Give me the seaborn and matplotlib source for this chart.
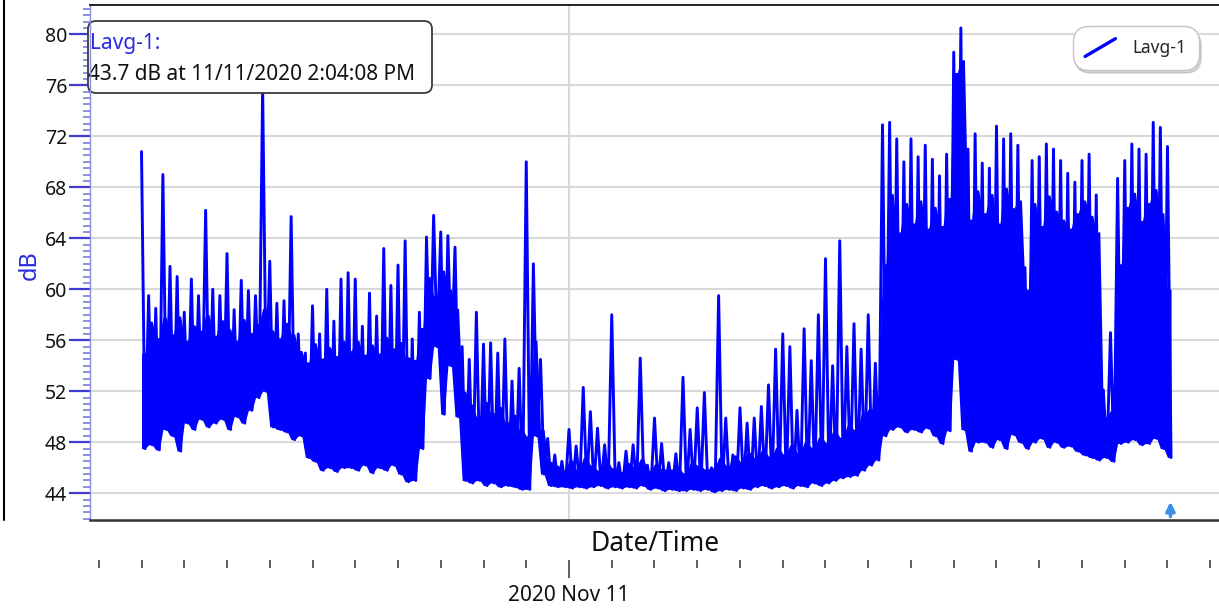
import numpy as np
import pandas as pd
import seaborn as sns
import matplotlib.pyplot as plt
import matplotlib.dates as mdates
from matplotlib.ticker import MultipleLocator, NullFormatter
from matplotlib.patches import FancyBboxPatch
from matplotlib.lines import Line2D
from matplotlib.legend_handler import HandlerBase

# --- Data (10 minute blocks) ---
series_name = 'Lavg-1'
start_time = '2020-11-10 14:00'
step_minutes = 10

# highest reading inside each block
peak_db = [
    70.8, 59.5, 58.5, 69.0, 61.8, 61.0, 58.2, 60.8, 59.5, 66.2,
    60.0, 59.5, 62.8, 58.4, 60.7, 59.9, 59.5, 75.8, 62.2, 58.9,
    59.1, 65.7, 56.5, 55.0, 58.7, 56.5, 60.0, 57.5, 60.8, 61.3,
    60.8, 57.1, 59.7, 57.9, 63.2, 60.3, 61.9, 63.8, 56.1, 58.2,
    64.1, 65.8, 64.5, 64.2, 63.3, 55.5, 54.5, 58.2, 55.7, 55.8,
    55.0, 56.1, 52.8, 53.8, 70.0, 62.0, 54.5, 48.3, 47.0, 46.5,
    49.0, 47.7, 52.3, 50.4, 49.1, 47.8, 58.0, 46.4, 47.3, 47.8,
    54.6, 46.2, 49.9, 47.9, 46.4, 47.1, 53.1, 49.0, 50.7, 51.9,
    46.0, 59.5, 49.9, 47.0, 50.7, 49.5, 49.9, 50.8, 52.5, 55.3,
    56.5, 55.5, 50.5, 56.9, 54.4, 58.0, 62.4, 54.0, 63.8, 55.5,
    57.3, 55.3, 58.0, 54.2, 72.9, 73.1, 71.8, 70.0, 71.8, 70.4,
    71.3, 70.2, 68.9, 70.6, 78.6, 80.5, 71.0, 72.2, 69.9, 69.5,
    72.8, 71.8, 72.2, 71.3, 61.7, 70.1, 70.4, 71.4, 71.0, 70.1,
    69.1, 68.4, 70.1, 70.6, 67.4, 52.1, 56.6, 68.7, 70.1, 71.4,
    71.0, 70.6, 73.1, 72.7, 71.2,
]

# level up to which the trace is a solid mass inside each block
core_db = [
    55.0, 57.5, 56.2, 57.8, 56.5, 57.9, 56.0, 57.2, 56.8, 58.0,
    56.4, 57.6, 56.9, 56.0, 57.7, 56.6, 57.3, 58.5, 56.8, 56.2,
    57.4, 56.5, 55.2, 54.3, 55.8, 54.6, 55.5, 54.8, 56.0, 55.2,
    56.0, 54.9, 55.7, 55.0, 56.3, 55.4, 55.9, 54.7, 54.5, 57.0,
    61.0, 59.5, 61.5, 60.0, 58.5, 52.0, 51.0, 50.0, 51.2, 50.3,
    50.8, 49.6, 50.2, 49.0, 48.5, 56.0, 49.0, 46.5, 46.2, 45.8,
    46.6, 45.9, 46.8, 46.2, 45.8, 46.5, 46.0, 45.7, 46.4, 46.1,
    46.7, 45.8, 46.3, 45.9, 45.9, 46.0, 45.6, 46.4, 46.2, 45.9,
    46.0, 46.8, 46.2, 47.0, 46.5, 47.2, 46.8, 47.4, 46.9, 47.6,
    47.1, 47.8, 47.2, 48.0, 47.6, 48.4, 48.0, 48.9, 48.4, 49.3,
    49.0, 50.2, 50.6, 51.2, 62.0, 67.5, 64.5, 66.8, 65.2, 67.0,
    64.8, 66.5, 65.0, 67.2, 77.0, 78.0, 65.5, 67.8, 66.0, 67.5,
    65.2, 68.0, 66.4, 67.0, 60.0, 66.8, 65.0, 67.4, 66.2, 65.5,
    64.8, 66.0, 67.0, 65.8, 64.5, 50.0, 50.5, 62.0, 66.5, 67.6,
    65.4, 66.8, 67.9, 66.0, 60.0,
]

# lowest reading inside each block
floor_db = [
    47.5, 47.8, 47.4, 49.0, 48.5, 47.3, 49.5, 49.0, 49.8, 49.2,
    49.5, 49.8, 49.0, 50.0, 49.5, 50.5, 51.5, 52.0, 49.2, 49.0,
    48.8, 48.2, 48.5, 46.8, 46.5, 45.8, 46.0, 45.7, 46.0, 46.0,
    45.8, 46.2, 45.6, 46.0, 45.8, 46.2, 45.5, 44.9, 45.0, 47.5,
    53.0, 55.5, 50.2, 54.0, 50.0, 45.0, 44.8, 45.0, 44.6, 44.8,
    44.5, 44.6, 44.5, 44.3, 44.3, 48.5, 45.5, 44.6, 44.5, 44.5,
    44.4, 44.5, 44.4, 44.5, 44.6, 44.4, 44.5, 44.4, 44.5, 44.4,
    44.6, 44.3, 44.4, 44.2, 44.3, 44.2, 44.2, 44.3, 44.2, 44.3,
    44.1, 44.2, 44.3, 44.2, 44.4, 44.3, 44.5, 44.6, 44.4, 44.5,
    44.6, 44.4, 44.6, 44.5, 44.8, 44.6, 44.8, 45.0, 45.2, 45.3,
    45.4, 45.8, 46.2, 46.6, 48.5, 49.0, 49.2, 48.8, 49.0, 48.8,
    49.1, 48.5, 47.9, 48.9, 54.5, 49.0, 47.3, 48.0, 48.0, 47.6,
    48.2, 47.5, 48.6, 48.0, 47.5, 48.0, 48.3, 47.6, 48.0, 47.6,
    47.7, 47.3, 47.0, 46.8, 46.6, 46.8, 46.5, 47.9, 48.0, 48.2,
    47.8, 47.9, 48.3, 47.5, 46.8,
]

cursor_time = '2020-11-11 14:04:08'
cursor_db = 43.7
y_ticks = [44, 48, 52, 56, 60, 64, 68, 72, 76, 80]

# --- Build the trace: peak then floor for every block ---
block_start = pd.Timestamp(start_time) + pd.to_timedelta(np.arange(len(peak_db)) * step_minutes, unit='min')
block_mid = block_start + pd.Timedelta(minutes=step_minutes / 2)
times = np.ravel(np.column_stack([block_start.values, block_mid.values]))

df = pd.DataFrame({
    'Date/Time': times,
    'dB': np.ravel(np.column_stack([peak_db, floor_db])),
})
band = pd.DataFrame({
    'Date/Time': times,
    'low': np.repeat(floor_db, 2),
    'high': np.repeat(core_db, 2),
})

sns.set_style('white')
plt.rcParams['font.family'] = ['Noto Sans', 'DejaVu Sans']

blue = '#0000ff'
grid_col = '#d9d9d9'

fig = plt.figure(figsize=(12.19, 6.12), dpi=100)
ax = fig.add_axes([90 / 1219, 1 - 520 / 612, 1129 / 1219, 515 / 612])

# solid mass of the trace, then the spikes on top of it
ax.fill_between(band['Date/Time'], band['low'], band['high'], color=blue, lw=0, zorder=2)
sns.lineplot(data=df, x='Date/Time', y='dB', ax=ax, color=blue, lw=2.1,
             estimator=None, sort=False, legend=False, zorder=2)

x_left = pd.Timestamp('2020-11-10 12:47:42')
x_right = pd.Timestamp('2020-11-11 15:12:18')
ax.set_xlim(x_left, x_right)
ax.set_ylim(41.9, 82.3)

# --- Y axis ---
ax.set_yticks(y_ticks)
ax.yaxis.set_minor_locator(MultipleLocator(0.5))
ax.tick_params(axis='y', which='major', length=15, width=1.6, color='#3c3cd2',
               labelsize=14, labelcolor='#111111', pad=1.5, left=True)
ax.tick_params(axis='y', which='minor', length=5, width=1.2, color='#7c7cdc', left=True)
ax.set_ylabel('dB', fontsize=17, color='#2a2ae0')
ax.yaxis.set_label_coords(-0.043, 0.495)

# --- X axis on the plot: only the midnight grid line ---
ax.xaxis.set_major_locator(mdates.DayLocator())
ax.xaxis.set_major_formatter(NullFormatter())
ax.tick_params(axis='x', which='both', length=0)
ax.set_xlabel('Date/Time', fontsize=19, color='#111111')
ax.xaxis.set_label_coords(0.5004, -0.019)

ax.grid(True, which='major', color=grid_col, lw=1.5)

ax.spines['right'].set_visible(False)
ax.spines['top'].set_color('#111111')
ax.spines['top'].set_linewidth(1.3)
ax.spines['bottom'].set_color('#333333')
ax.spines['bottom'].set_linewidth(1.8)
ax.spines['left'].set_color('#8c8cdc')
ax.spines['left'].set_linewidth(1.0)

# --- Hour ticks row under the axis title ---
tick_ax = fig.add_axes([90 / 1219, 1 - 560 / 612, 1129 / 1219, 0.0001])
tick_ax.set_xlim(x_left, x_right)
tick_ax.set_yticks([])
tick_ax.patch.set_visible(False)
for s in tick_ax.spines.values():
    s.set_visible(False)
tick_ax.xaxis.set_major_locator(mdates.DayLocator())
tick_ax.xaxis.set_minor_locator(mdates.HourLocator())
tick_ax.xaxis.set_major_formatter(mdates.DateFormatter('%Y %b %d'))
tick_ax.tick_params(axis='x', which='major', bottom=True, direction='out', length=13,
                    width=1.1, color='#333333', labelsize=15, labelcolor='#111111', pad=5)
tick_ax.tick_params(axis='x', which='minor', bottom=True, direction='out', length=6,
                    width=1.1, color='#333333')


# --- Legend with slanted line ---
class DiagonalHandle(HandlerBase):
    def create_artists(self, legend, orig_handle, xdescent, ydescent,
                       width, height, fontsize, trans):
        ln = Line2D([-xdescent, -xdescent + width], [-ydescent, -ydescent + height],
                    color=orig_handle.get_color(), lw=2.4, solid_capstyle='round')
        ln.set_transform(trans)
        return [ln]


trace = ax.get_lines()[0]
leg = ax.legend([trace], [series_name], loc='center',
                bbox_to_anchor=((1136 - 90) / 1129, (520 - 48) / 515),
                fontsize=12.5, handlelength=1.75, handleheight=1.2, handletextpad=1.0,
                borderpad=0.7, fancybox=True, framealpha=1,
                shadow={'ox': 1.5, 'oy': -2.5, 'color': '0.55', 'alpha': 0.35},
                handler_map={Line2D: DiagonalHandle()})
leg.get_frame().set_boxstyle('round,pad=0,rounding_size=0.9')
leg.get_frame().set_edgecolor('#c4c4c4')
leg.get_frame().set_linewidth(1.0)

# --- Cursor readout box ---
box = FancyBboxPatch((0.88, (612 - 93) / 100), 3.44, 0.72,
                     boxstyle='round,pad=0,rounding_size=0.08',
                     transform=fig.dpi_scale_trans, facecolor='white',
                     edgecolor='#3a3a3a', lw=1.3, zorder=2.3, clip_on=False)
ax.add_patch(box)
ax.text(0.895, (612 - 43) / 100, f'{series_name}:', transform=fig.dpi_scale_trans,
        fontsize=15, color='#2a2ae0', ha='left', va='center', zorder=2.4, clip_on=False)
cursor_ts = pd.Timestamp(cursor_time)
ax.text(0.885, (612 - 74) / 100,
        f'{cursor_db} dB at {cursor_ts.month}/{cursor_ts.day}/{cursor_ts.year} '
        f'{cursor_ts.strftime("%I:%M:%S %p").lstrip("0")}',
        transform=fig.dpi_scale_trans, fontsize=15, color='#111111',
        ha='left', va='center', zorder=2.4, clip_on=False)

# cursor marker at the bottom
ax.annotate('', xy=(cursor_ts, 43.55), xytext=(cursor_ts, 41.95),
            arrowprops=dict(arrowstyle='-|>', color='#3d8fe6', lw=2.5, mutation_scale=13),
            annotation_clip=False)

# outer frame line at the far left
fig.add_artist(Line2D([4 / 1219, 4 / 1219], [1 - 520 / 612, 1.0], color='black', lw=1.5))

plt.savefig('out.png', dpi=100)
